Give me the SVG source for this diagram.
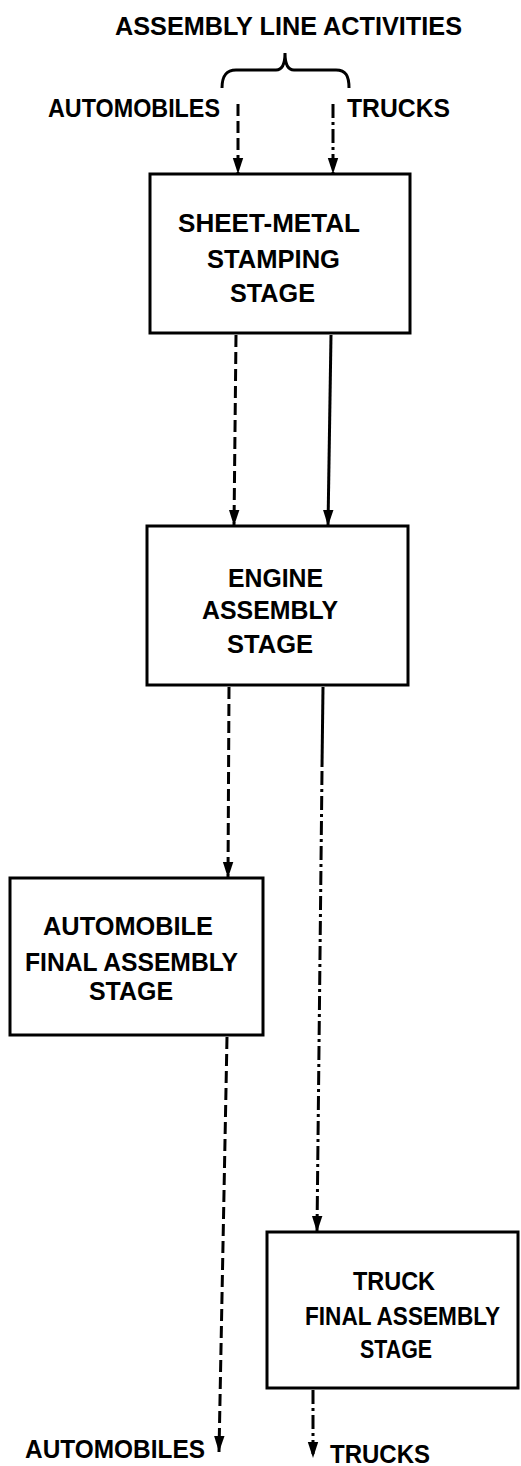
<svg xmlns="http://www.w3.org/2000/svg" width="521" height="1466" viewBox="0 0 521 1466">
<style>
text{font-family:"Liberation Sans",Arial,sans-serif;font-weight:bold;font-size:25px;fill:#000;text-anchor:middle}
.box{fill:#fff;stroke:#000;stroke-width:3}
.ln{fill:none;stroke:#000;stroke-width:3}
.dash{stroke-dasharray:12 5}
.dd{stroke-dasharray:14 4 3 4}
</style>
<defs>
<marker id="ah" markerUnits="userSpaceOnUse" markerWidth="18" markerHeight="12" refX="16" refY="6" orient="auto" viewBox="0 0 18 12">
<path d="M0,0.8 L16,6 L0,11.2 z" fill="#000"/>
</marker>
</defs>
<g id="header">
<text x="288.5" y="35" textLength="347" lengthAdjust="spacingAndGlyphs">ASSEMBLY LINE ACTIVITIES</text>
<path class="ln" d="M222,88 C222,76 226,70 236,70 L276,70 C282,70 285,64 285,53 C285,64 288,70 294,70 L336,70 C346,70 349,76 349,88"/>
<text x="134" y="117" textLength="172" lengthAdjust="spacingAndGlyphs">AUTOMOBILES</text>
<text x="398.5" y="117" textLength="103" lengthAdjust="spacingAndGlyphs">TRUCKS</text>
</g>
<g id="connectors">
<line class="ln dash" x1="238" y1="104" x2="238" y2="174" marker-end="url(#ah)"/>
<line class="ln dd" x1="333" y1="104" x2="333" y2="174" marker-end="url(#ah)"/>
<line class="ln dash" x1="236" y1="335" x2="234" y2="526" marker-end="url(#ah)"/>
<line class="ln" x1="331" y1="335" x2="328" y2="526" marker-end="url(#ah)"/>
<line class="ln dash" x1="229" y1="687" x2="228" y2="878" marker-end="url(#ah)"/>
<line class="ln" x1="323" y1="687" x2="322" y2="767"/>
<line class="ln dd" x1="322" y1="771" x2="317" y2="1232" marker-end="url(#ah)"/>
<line class="ln dash" x1="227" y1="1037" x2="219" y2="1452" marker-end="url(#ah)"/>
<line class="ln dd" x1="313" y1="1390" x2="313" y2="1458" marker-end="url(#ah)"/>
</g>
<g id="sheet-metal">
<rect class="box" x="150" y="174" width="260" height="159"/>
<text x="269" y="232" textLength="182" lengthAdjust="spacingAndGlyphs">SHEET-METAL</text>
<text x="273.5" y="268" textLength="133" lengthAdjust="spacingAndGlyphs">STAMPING</text>
<text x="272.5" y="302" textLength="85" lengthAdjust="spacingAndGlyphs">STAGE</text>
</g>
<g id="engine">
<rect class="box" x="147" y="526" width="261" height="159"/>
<text x="275.5" y="587" textLength="95" lengthAdjust="spacingAndGlyphs">ENGINE</text>
<text x="270" y="619" textLength="136" lengthAdjust="spacingAndGlyphs">ASSEMBLY</text>
<text x="270" y="653" textLength="86" lengthAdjust="spacingAndGlyphs">STAGE</text>
</g>
<g id="automobile-final">
<rect class="box" x="10" y="878" width="253" height="157"/>
<text x="128" y="935" textLength="170" lengthAdjust="spacingAndGlyphs">AUTOMOBILE</text>
<text x="131.5" y="971" textLength="213" lengthAdjust="spacingAndGlyphs">FINAL ASSEMBLY</text>
<text x="131" y="1000" textLength="84" lengthAdjust="spacingAndGlyphs">STAGE</text>
</g>
<g id="truck-final">
<rect class="box" x="267" y="1232" width="251" height="156"/>
<text x="394" y="1290" textLength="82" lengthAdjust="spacingAndGlyphs">TRUCK</text>
<text x="402.5" y="1325" textLength="195" lengthAdjust="spacingAndGlyphs">FINAL ASSEMBLY</text>
<text x="396" y="1358" textLength="72" lengthAdjust="spacingAndGlyphs">STAGE</text>
</g>
<g id="outputs">
<text x="115" y="1458" textLength="180" lengthAdjust="spacingAndGlyphs">AUTOMOBILES</text>
<text x="380" y="1463" textLength="100" lengthAdjust="spacingAndGlyphs">TRUCKS</text>
</g>
</svg>
